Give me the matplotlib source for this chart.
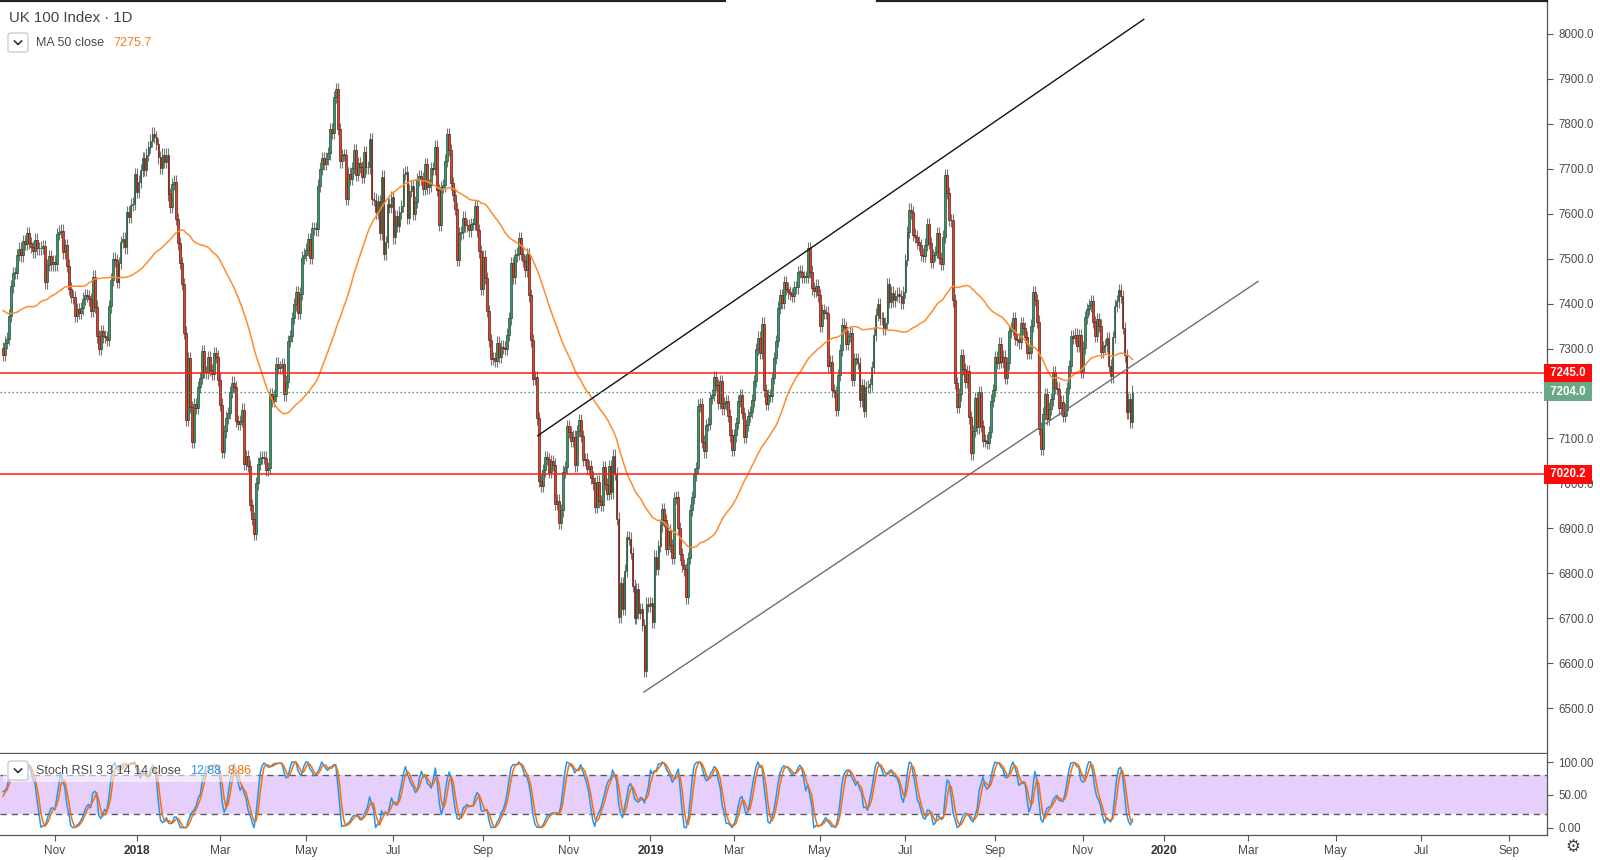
import numpy as np
import pandas as pd
import matplotlib
matplotlib.use("Agg")
import matplotlib.pyplot as plt
from matplotlib.patches import FancyBboxPatch, Rectangle
from matplotlib.lines import Line2D

plt.rcParams['font.family'] = ['Liberation Sans', 'DejaVu Sans']

# ---------------------------------------------------------------- data
# closes before the first visible bar (warm-up for MA 50 and Stoch RSI)
warmup_2017_07 = [7390, 7430, 7487, 7453, 7378, 7435, 7434, 7443, 7368, 7372]
warmup_2017_08 = [7423, 7411, 7474, 7511, 7532, 7542, 7498, 7389, 7310, 7353, 7383, 7433,
                  7387, 7324, 7318, 7383, 7382, 7407, 7401, 7401, 7337, 7365, 7431]
warmup_2017_09 = [7438, 7411, 7372, 7354, 7397, 7377, 7413, 7400, 7379, 7295, 7215, 7253,
                  7275, 7271, 7263, 7310, 7301]

# visible daily closes, 26 Sep 2017 - 6 Dec 2019
c_2017_09 = [7286, 7313, 7322, 7373]
c_2017_10 = [7438, 7468, 7468, 7508, 7522, 7507, 7538, 7533, 7556, 7535, 7526, 7516, 7542, 7523,
             7523, 7524, 7527, 7447, 7486, 7505, 7487, 7493]
c_2017_11 = [7487, 7555, 7560, 7562, 7514, 7530, 7484, 7433, 7415, 7414, 7372, 7387, 7380, 7389,
             7411, 7419, 7417, 7409, 7383, 7460, 7393, 7327]
c_2017_12 = [7300, 7339, 7327, 7326, 7320, 7394, 7453, 7500, 7496, 7448, 7490, 7537, 7544, 7525,
             7603, 7592, 7620, 7622, 7688]
c_2018_01 = [7648, 7671, 7696, 7724, 7697, 7731, 7748, 7762, 7778, 7770, 7755, 7725, 7701, 7731,
             7715, 7731, 7643, 7615, 7666, 7671, 7588, 7534]
c_2018_02 = [7490, 7443, 7335, 7141, 7279, 7170, 7092, 7177, 7168, 7214, 7234, 7294, 7248, 7247,
             7281, 7252, 7244, 7289, 7282, 7231]
c_2018_03 = [7175, 7070, 7116, 7146, 7157, 7203, 7224, 7214, 7139, 7133, 7139, 7164, 7043, 7061,
             7039, 6952, 6922, 6888, 7000, 7044, 7057, 7057]
c_2018_04 = [7057, 7030, 7034, 7199, 7183, 7194, 7266, 7257, 7258, 7265, 7198, 7226, 7317, 7328,
             7368, 7398, 7425, 7380, 7422, 7502, 7509]
c_2018_05 = [7520, 7543, 7502, 7567, 7567, 7565, 7662, 7700, 7724, 7710, 7722, 7734, 7788, 7779,
             7859, 7877, 7788, 7716, 7730, 7730, 7632, 7689, 7678]
c_2018_06 = [7701, 7741, 7686, 7712, 7704, 7681, 7737, 7703, 7703, 7765, 7633, 7631, 7603, 7627,
             7556, 7682, 7510, 7537, 7621, 7615, 7637]
c_2018_07 = [7547, 7594, 7573, 7603, 7617, 7688, 7692, 7591, 7651, 7661, 7600, 7626, 7676, 7684,
             7678, 7655, 7710, 7658, 7663, 7701, 7700, 7749]
c_2018_08 = [7652, 7575, 7659, 7663, 7718, 7776, 7741, 7667, 7642, 7611, 7497, 7556, 7558, 7591,
             7574, 7575, 7563, 7577, 7577, 7617, 7563, 7516, 7432]
c_2018_09 = [7504, 7457, 7383, 7318, 7277, 7279, 7273, 7313, 7281, 7304, 7302, 7300, 7331, 7367,
             7490, 7458, 7507, 7511, 7545, 7510]
c_2018_10 = [7495, 7474, 7510, 7418, 7318, 7233, 7237, 7145, 7006, 6995, 7029, 7059, 7054, 7026,
             7049, 7042, 6955, 6962, 6913, 6940, 7026, 7036, 7128]
c_2018_11 = [7114, 7094, 7104, 7040, 7117, 7141, 7105, 7053, 7054, 7033, 7038, 7013, 7000, 6948,
             7004, 6960, 6953, 7036, 6999, 6977, 7038, 6980]
c_2018_12 = [7062, 7022, 6922, 6704, 6778, 6721, 6806, 6880, 6877, 6845, 6773, 6701, 6765, 6712,
             6721, 6685, 6584, 6733, 6728]
c_2019_01 = [6734, 6692, 6837, 6810, 6861, 6907, 6943, 6918, 6855, 6895, 6862, 6835, 6968, 6970,
             6901, 6842, 6818, 6809, 6747, 6834, 6941, 6969]
c_2019_02 = [7020, 7034, 7173, 7177, 7093, 7071, 7130, 7133, 7190, 7197, 7237, 7219, 7179, 7228,
             7167, 7178, 7183, 7151, 7107, 7074]
c_2019_03 = [7107, 7134, 7183, 7196, 7157, 7104, 7130, 7151, 7159, 7185, 7228, 7299, 7324, 7291,
             7355, 7207, 7177, 7196, 7194, 7234, 7279]
c_2019_04 = [7317, 7391, 7418, 7401, 7447, 7433, 7425, 7421, 7417, 7437, 7436, 7470, 7471, 7459,
             7459, 7459, 7523, 7471, 7434, 7428, 7440, 7418]
c_2019_05 = [7351, 7385, 7380, 7380, 7260, 7271, 7207, 7203, 7163, 7241, 7297, 7353, 7348, 7310,
             7328, 7334, 7231, 7277, 7277, 7268, 7185, 7218, 7162]
c_2019_06 = [7214, 7215, 7220, 7259, 7331, 7375, 7398, 7367, 7368, 7345, 7357, 7443, 7403, 7424,
             7407, 7417, 7422, 7416, 7402, 7426]
c_2019_07 = [7497, 7559, 7609, 7603, 7553, 7549, 7536, 7530, 7509, 7506, 7531, 7577, 7535, 7493,
             7508, 7515, 7556, 7501, 7489, 7549, 7686, 7646, 7586]
c_2019_08 = [7585, 7407, 7223, 7171, 7198, 7286, 7254, 7226, 7250, 7147, 7067, 7117, 7189, 7125,
             7203, 7128, 7095, 7095, 7090, 7114, 7184, 7207]
c_2019_09 = [7281, 7268, 7311, 7271, 7282, 7235, 7267, 7338, 7345, 7367, 7321, 7320, 7314, 7356,
             7345, 7326, 7291, 7290, 7351, 7426, 7408]
c_2019_10 = [7360, 7122, 7077, 7155, 7198, 7143, 7166, 7187, 7247, 7213, 7211, 7167, 7182, 7150,
             7164, 7212, 7260, 7328, 7324, 7331, 7306, 7330, 7248]
c_2019_11 = [7302, 7369, 7388, 7396, 7406, 7359, 7328, 7365, 7351, 7292, 7303, 7307, 7323, 7262,
             7238, 7326, 7395, 7405, 7430, 7416, 7346]
c_2019_12 = [7285, 7158, 7188, 7137, 7204]

first_day = "2017-09-26"
axis_end_day = "2020-09-30"
closed_days = ["2017-12-25", "2017-12-26", "2018-01-01", "2018-12-25", "2018-12-26",
               "2019-01-01", "2019-12-25", "2019-12-26", "2020-01-01"]

levels = [7245.0, 7020.2]                      # horizontal red levels
upper_channel = ([268.4, 572.7], [7106, 8032])  # (bar index, price) anchors
lower_channel = ([321.7, 630.0], [6536, 7449])

title = "UK 100 Index · 1D"
ma_label, ma_value_text = "MA 50 close", "7275.7"
stoch_label, stoch_k_text, stoch_d_text = "Stoch RSI 3 3 14 14 close", "12.88", "8.86"

# ---------------------------------------------------------------- derived series
warm = warmup_2017_07 + warmup_2017_08 + warmup_2017_09
vis = (c_2017_09 + c_2017_10 + c_2017_11 + c_2017_12 +
       c_2018_01 + c_2018_02 + c_2018_03 + c_2018_04 + c_2018_05 + c_2018_06 +
       c_2018_07 + c_2018_08 + c_2018_09 + c_2018_10 + c_2018_11 + c_2018_12 +
       c_2019_01 + c_2019_02 + c_2019_03 + c_2019_04 + c_2019_05 + c_2019_06 +
       c_2019_07 + c_2019_08 + c_2019_09 + c_2019_10 + c_2019_11 + c_2019_12)
n_w = len(warm)
closes = np.array(vis, dtype=float)
n = len(closes)
all_c = pd.Series(warm + vis, dtype=float)
opens = np.r_[warm[-1], closes[:-1]]
x = np.arange(n)

ma50 = all_c.rolling(50).mean().values[n_w:]

delta = all_c.diff()
gain = delta.clip(lower=0).ewm(alpha=1 / 14, adjust=False).mean()
loss = (-delta.clip(upper=0)).ewm(alpha=1 / 14, adjust=False).mean()
rsi = 100 - 100 / (1 + gain / loss)
lo, hi = rsi.rolling(14).min(), rsi.rolling(14).max()
stoch = (rsi - lo) / (hi - lo) * 100
k_line = stoch.rolling(3).mean()
d_line = k_line.rolling(3).mean()
k_vis = k_line.values[n_w:]
d_vis = d_line.values[n_w:]

dates_all = pd.bdate_range(first_day, axis_end_day)
dates_all = dates_all[~dates_all.isin(pd.to_datetime(closed_days))]

# ---------------------------------------------------------------- style
GREEN_FILL, GREEN_EDGE = "#3f9468", "#1f5337"
RED_FILL, RED_EDGE = "#d9452f", "#6a1d12"
WICK_COL = "#777777"
WICK = 14
MA_COL = "#ff8c2e"
AXIS_COL = "#555555"
TXT = "#4a4a4a"

W, H = 1600, 860
fig = plt.figure(figsize=(16, 8.6), dpi=100)
fig.patch.set_facecolor("white")

def fx(px):
    return px / W

def fy(py):
    return 1 - py / H

ax = fig.add_axes([0, fy(753), fx(1547), fy(0) - fy(753)])
ax2 = fig.add_axes([0, fy(835), fx(1547), fy(754) - fy(835)], sharex=ax)

# ---------------------------------------------------------------- candles
up = closes >= opens
body_lo = np.minimum(opens, closes)
body_h = np.maximum(np.abs(closes - opens), 1.5)
highs = np.maximum(opens, closes) + WICK
lows = np.minimum(opens, closes) - WICK
ax.vlines(x, lows, highs, color=WICK_COL, lw=0.8, zorder=2)
ax.bar(x[up], body_h[up], bottom=body_lo[up], width=0.9, color=GREEN_FILL,
       edgecolor=GREEN_EDGE, linewidth=0.5, zorder=3)
ax.bar(x[~up], body_h[~up], bottom=body_lo[~up], width=0.9, color=RED_FILL,
       edgecolor=RED_EDGE, linewidth=0.5, zorder=3)
ax.plot(x, ma50, color=MA_COL, lw=1.1, zorder=4)

ax.plot(*upper_channel, color="#111111", lw=1.0, zorder=5)
ax.plot(*lower_channel, color="#6f6f6f", lw=1.0, zorder=5)

for lv in levels:
    ax.axhline(lv, color="#ff1a1a", lw=1.1, zorder=6)
last = closes[-1]
ax.axhline(last, color="#4f8f6e", lw=0.9, ls=(0, (1.2, 2)), zorder=6)

ax.set_xlim(-1.54, 775.1)
ax.set_ylim(6400.6, 8074.9)
ax.yaxis.tick_right()
yt = np.arange(6500, 8001, 100)
ax.set_yticks(yt)
# the tick label that the last-price tag covers completely is not shown
ax.set_yticklabels(["" if abs(v - last) < 25 else f"{v:.1f}" for v in yt])
ax.tick_params(axis="y", direction="out", length=4, width=0.8, color=AXIS_COL,
               labelcolor=TXT, labelsize=8.3, pad=4)
ax.tick_params(axis="x", length=0, labelbottom=False)
for s in ["top", "left"]:
    ax.spines[s].set_visible(False)
ax.spines["right"].set_color(AXIS_COL)
ax.spines["bottom"].set_color(AXIS_COL)
ax.spines["right"].set_linewidth(0.9)
ax.spines["bottom"].set_linewidth(0.9)

def price_tag(axis, value, text, fc):
    axis.text(1.0, value, f" {text} ", transform=axis.get_yaxis_transform(), ha="left",
              va="center", color="white", fontsize=8.3, fontweight="bold", zorder=20,
              clip_on=False,
              bbox=dict(boxstyle="square,pad=0.28", fc=fc, ec="none"))

for lv in levels:
    price_tag(ax, lv, f"{lv:.1f}", "#ff0a0a")
price_tag(ax, last, f"{last:.1f}", "#6aa886")

# ---------------------------------------------------------------- stoch RSI panel
ax2.axhspan(20, 80, color="#e6d0fb", zorder=0, lw=0)
for lv in (80, 20):
    ax2.axhline(lv, color="#5a5a5a", lw=1.0, ls=(0, (4.5, 3.5)), zorder=1)
ax2.plot(x, k_vis, color="#2196f3", lw=1.1, zorder=3)
ax2.plot(x, d_vis, color="#ff6d00", lw=1.1, zorder=3)
ax2.set_ylim(-11.3, 112.2)
ax2.yaxis.tick_right()
ax2.set_yticks([0, 50, 100])
ax2.set_yticklabels(["0.00", "50.00", "100.00"])
ax2.tick_params(axis="y", direction="out", length=4, width=0.8, color=AXIS_COL,
                labelcolor=TXT, labelsize=8.3, pad=4)
for s in ["top", "left"]:
    ax2.spines[s].set_visible(False)
ax2.spines["right"].set_color(AXIS_COL)
ax2.spines["bottom"].set_color(AXIS_COL)
ax2.spines["right"].set_linewidth(0.9)
ax2.spines["bottom"].set_linewidth(0.9)

pos_ser = pd.Series(np.arange(len(dates_all)), index=dates_all)
firsts = pos_ser.groupby([dates_all.year, dates_all.month]).first()
tick_pos, tick_lab, tick_bold = [], [], []
for (yy, mm), idx in firsts.items():
    if idx == 0 or mm % 2 == 0:
        continue
    tick_pos.append(idx)
    if mm == 1:
        tick_lab.append(str(yy))
        tick_bold.append(True)
    else:
        tick_lab.append(pd.Timestamp(year=yy, month=mm, day=1).strftime("%b"))
        tick_bold.append(False)
ax2.set_xticks(tick_pos)
ax2.set_xticklabels(tick_lab)
ax2.tick_params(axis="x", direction="out", length=4, width=0.8, color=AXIS_COL,
                labelcolor=TXT, labelsize=8.6, pad=3)
for lab, b in zip(ax2.get_xticklabels(), tick_bold):
    if b:
        lab.set_fontweight("bold")
        lab.set_color("#333333")
ax.set_xlim(-1.54, 775.1)

# ---------------------------------------------------------------- header texts / chrome
fig.add_artist(Line2D([0, fx(725)], [fy(0.8), fy(0.8)], color="#222222", lw=1.6))
fig.add_artist(Line2D([fx(877), fx(1547)], [fy(0.8), fy(0.8)], color="#222222", lw=1.6))

fig.text(fx(9), fy(18.5), title, fontsize=10.8, color="#444444", ha="left", va="center")

def chevron_box(x0, y0, w, h):
    fig.add_artist(FancyBboxPatch((fx(x0), fy(y0 + h)), fx(w), fy(0) - fy(h),
                                  boxstyle="round,pad=0,rounding_size=0.002",
                                  transform=fig.transFigure, fc="white", ec="#c8c8c8",
                                  lw=0.9, zorder=30))
    cx, cy = x0 + w / 2, y0 + h / 2
    fig.add_artist(Line2D([fx(cx - 3.5), fx(cx), fx(cx + 3.5)],
                          [fy(cy - 1.5), fy(cy + 2), fy(cy - 1.5)],
                          color="#333333", lw=1.2, zorder=31))

chevron_box(8, 33, 20, 19)
fig.text(fx(36), fy(42.5), ma_label, fontsize=9, color="#4a4a4a", ha="left", va="center")
fig.text(fx(113), fy(42.5), ma_value_text, fontsize=9, color="#f57c1f", ha="left",
         va="center")

fig.add_artist(Rectangle((fx(3), fy(782)), fx(255), fy(0) - fy(22), transform=fig.transFigure,
                         fc="white", ec="none", alpha=0.55, zorder=25))
chevron_box(8, 761, 20, 19)
fig.text(fx(36), fy(770.5), stoch_label, fontsize=9, color="#4a4a4a", ha="left",
         va="center", zorder=32)
fig.text(fx(190), fy(770.5), stoch_k_text, fontsize=9, color="#2196f3", ha="left",
         va="center", zorder=32)
fig.text(fx(228), fy(770.5), stoch_d_text, fontsize=9, color="#ff6d00", ha="left",
         va="center", zorder=32)

fig.text(fx(1573), fy(847), "⚙", fontsize=12, color="#444444", ha="center", va="center",
         family="DejaVu Sans")

fig.savefig("out.png", dpi=100, facecolor="white")
